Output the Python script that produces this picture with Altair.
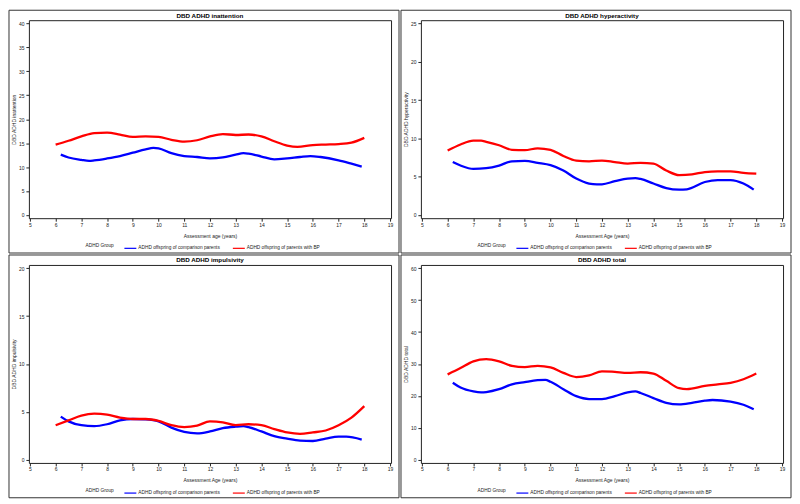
import altair as alt
import pandas as pd

CMP = "ADHD offspring of comparison parents"
BP = "ADHD offspring of parents with BP"

# --- DBD ADHD inattention ---
IN_BP_AGE = [6, 6.5, 7, 7.5, 8, 8.5, 9, 9.5, 10, 10.5, 11, 11.5, 12, 12.5, 13, 13.5, 14, 14.5, 15, 15.4, 16, 16.5, 17, 17.5, 18]
IN_BP = [14.7, 15.5, 16.4, 17.1, 17.2, 16.8, 16.3, 16.4, 16.3, 15.7, 15.3, 15.6, 16.4, 16.9, 16.7, 16.8, 16.4, 15.4, 14.5, 14.2, 14.6, 14.7, 14.8, 15.1, 16.1]
IN_CMP_AGE = [6.2, 6.5, 7, 7.3, 7.5, 8, 8.5, 9, 9.5, 9.8, 10, 10.5, 11, 11.5, 12, 12.5, 13, 13.3, 13.5, 14, 14.5, 15, 15.5, 15.9, 16.3, 17, 17.5, 17.9]
IN_CMP = [12.6, 12.0, 11.5, 11.3, 11.4, 11.8, 12.3, 13.0, 13.7, 14.0, 13.9, 12.9, 12.3, 12.1, 11.8, 12.0, 12.6, 12.9, 12.8, 12.2, 11.6, 11.8, 12.1, 12.3, 12.1, 11.4, 10.7, 10.1]

# --- DBD ADHD hyperactivity ---
HY_BP_AGE = [6, 6.5, 7, 7.3, 7.5, 8, 8.5, 9, 9.5, 10, 10.5, 11, 11.5, 12, 12.5, 13, 13.5, 14, 14.5, 15, 15.5, 16, 16.5, 17, 17.5, 18]
HY_BP = [8.4, 9.2, 9.7, 9.7, 9.55, 9.1, 8.5, 8.45, 8.7, 8.5, 7.7, 7.1, 7.0, 7.1, 6.9, 6.7, 6.8, 6.7, 5.8, 5.2, 5.3, 5.6, 5.7, 5.7, 5.5, 5.4]
HY_CMP_AGE = [6.2, 6.5, 7, 7.5, 8, 8.5, 9, 9.5, 10, 10.5, 11, 11.5, 11.8, 12, 12.5, 13, 13.3, 13.5, 14, 14.5, 15, 15.3, 16, 16.5, 17, 17.5, 17.9]
HY_CMP = [6.9, 6.45, 6.0, 6.1, 6.45, 7.0, 7.05, 6.8, 6.5, 5.8, 4.75, 4.1, 4.0, 4.0, 4.4, 4.75, 4.8, 4.7, 4.1, 3.5, 3.3, 3.35, 4.3, 4.55, 4.55, 4.1, 3.3]

# --- DBD ADHD impulsivity ---
IM_BP_AGE = [6, 6.5, 7, 7.5, 8, 8.5, 9, 9.5, 10, 10.5, 11, 11.5, 12, 12.5, 13, 13.5, 14, 14.5, 15, 15.5, 16, 16.5, 17, 17.5, 18]
IM_BP = [3.6, 4.1, 4.6, 4.8, 4.7, 4.4, 4.25, 4.25, 4.05, 3.6, 3.4, 3.55, 4.0, 3.9, 3.6, 3.7, 3.6, 3.2, 2.85, 2.7, 2.85, 3.05, 3.6, 4.4, 5.6]
IM_CMP_AGE = [6.2, 6.5, 7, 7.5, 8, 8.5, 9, 9.5, 10, 10.5, 11, 11.5, 12, 12.5, 13, 13.3, 13.5, 14, 14.5, 15, 15.5, 16, 16.5, 17, 17.3, 17.9]
IM_CMP = [4.5, 4.0, 3.6, 3.5, 3.7, 4.1, 4.25, 4.2, 4.0, 3.35, 2.9, 2.75, 2.95, 3.3, 3.45, 3.5, 3.4, 2.95, 2.45, 2.2, 2.0, 1.95, 2.2, 2.4, 2.4, 2.1]

# --- DBD ADHD total ---
TO_BP_AGE = [6, 6.5, 7, 7.5, 8, 8.5, 9, 9.5, 10, 10.5, 11, 11.5, 12, 12.5, 13, 13.5, 14, 14.5, 15, 15.3, 16, 16.5, 17, 17.5, 18]
TO_BP = [26.7, 28.7, 30.8, 31.5, 30.8, 29.4, 29.0, 29.4, 28.9, 27.2, 25.9, 26.4, 27.7, 27.5, 27.2, 27.4, 27.0, 24.7, 22.4, 22.1, 23.1, 23.6, 24.1, 25.2, 27.0]
TO_CMP_AGE = [6.2, 6.5, 7, 7.3, 7.5, 8, 8.5, 9, 9.5, 9.8, 10, 10.5, 11, 11.5, 12, 12.5, 13, 13.3, 13.5, 14, 14.5, 15, 15.5, 16, 16.3, 17, 17.5, 17.9]
TO_CMP = [24.1, 22.6, 21.4, 21.1, 21.2, 22.1, 23.6, 24.3, 24.9, 25.0, 24.4, 22.1, 19.9, 19.0, 19.0, 19.9, 21.1, 21.4, 20.9, 19.3, 17.8, 17.3, 17.8, 18.5, 18.7, 18.2, 17.2, 15.8]

X_TICKS = list(range(5, 20))

FONT = "Liberation Sans"
W = 364
H = 199


def panel(title, ytitle, xtitle, ymax, ystep, cmp_age, cmp_val, bp_age, bp_val):
    df = pd.concat([
        pd.DataFrame({"age": cmp_age, "value": cmp_val, "group": CMP}),
        pd.DataFrame({"age": bp_age, "value": bp_val, "group": BP}),
    ])
    pad = ymax * 0.017
    lines = alt.Chart(df).mark_line(strokeWidth=2.3, interpolate="monotone").encode(
        x=alt.X("age:Q",
                scale=alt.Scale(domain=[4.96, 19.04], nice=False, zero=False),
                axis=alt.Axis(values=X_TICKS, title=xtitle, titlePadding=6,
                              labelPadding=1)),
        y=alt.Y("value:Q",
                scale=alt.Scale(domain=[-pad, ymax + pad], nice=False),
                axis=alt.Axis(values=list(range(0, ymax + 1, ystep)), title=ytitle,
                              titlePadding=2, labelPadding=2)),
        color=alt.Color("group:N",
                        scale=alt.Scale(domain=[CMP, BP], range=["#0000FF", "#FF0000"]),
                        legend=alt.Legend(title="ADHD Group", orient="none",
                                          legendX=57, legendY=H + 23,
                                          direction="horizontal", titleOrient="left",
                                          titleAnchor="middle", titleBaseline="middle",
                                          titleFontSize=4.8, labelFontSize=4.8,
                                          titleFontWeight="normal", titleFont=FONT,
                                          labelFont=FONT, symbolType="stroke",
                                          symbolSize=144, symbolStrokeWidth=1.2,
                                          columnPadding=9, labelOffset=1,
                                          titlePadding=9,
                                          labelColor="#222", titleColor="#222")),
    )
    ttl = alt.Chart(pd.DataFrame({"t": [title]})).mark_text(
        font=FONT, fontSize=6.3, fontWeight="bold", color="black", baseline="middle"
    ).encode(text="t:N", x=alt.value(W / 2), y=alt.value(-4.5))
    border = alt.Chart(pd.DataFrame({"t": [0]})).mark_rect(
        fillOpacity=0, stroke="#333", strokeWidth=1
    ).encode(x=alt.value(-20), x2=alt.value(W + 8), y=alt.value(-10), y2=alt.value(H + 35))
    return alt.layer(border, lines, ttl).properties(width=W, height=H)


p1 = panel("DBD ADHD inattention", "DBD ADHD inattention", "Assessment age (years)",
           40, 5, IN_CMP_AGE, IN_CMP, IN_BP_AGE, IN_BP)
p2 = panel("DBD ADHD hyperactivity", "DBD ADHD hyperactivity", "Assessment Age (years)",
           25, 5, HY_CMP_AGE, HY_CMP, HY_BP_AGE, HY_BP)
p3 = panel("DBD ADHD impulsivity", "DBD ADHD impulsivity", "Assessment Age (years)",
           20, 5, IM_CMP_AGE, IM_CMP, IM_BP_AGE, IM_BP)
p4 = panel("DBD ADHD total", "DBD ADHD total", "Assessment Age (years)",
           60, 10, TO_CMP_AGE, TO_CMP, TO_BP_AGE, TO_BP)

chart = alt.concat(p1, p2, p3, p4, columns=2, spacing=0).resolve_scale(
    x="independent", y="independent"
).resolve_legend(color="independent").properties(
    padding=0, background="white"
).configure_view(
    stroke="#222", strokeWidth=1
).configure_axis(
    labelFont=FONT, titleFont=FONT, labelFontSize=5, titleFontSize=5,
    titleFontWeight="normal", grid=False, domain=False, tickColor="#222",
    tickSize=3, labelColor="#222", titleColor="#222"
)

chart.save("out.html", embed_options={"renderer": "svg", "actions": False})
